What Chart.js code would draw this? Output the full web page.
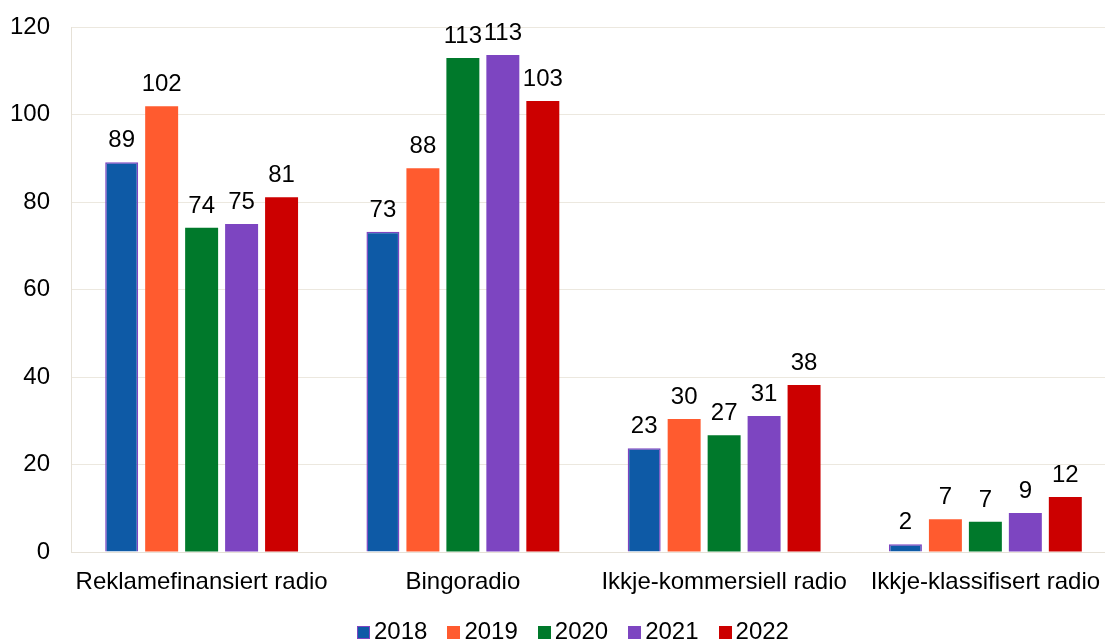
<!DOCTYPE html>
<html>
<head>
<meta charset="utf-8">
<script src="https://cdn.jsdelivr.net/npm/chart.js@4/dist/chart.umd.min.js"></script>
<style>
  html, body { margin: 0; padding: 0; background: #ffffff; overflow: hidden; width: 1105px; height: 642px; }
  #wrap { position: absolute; left: 0; top: 0; width: 1120px; height: 642px; }
  #legend { position: absolute; left: 357px; top: 619px; font-family: "Liberation Sans", Arial, sans-serif; font-size: 24px; line-height: 24px; color: #000; white-space: nowrap; }
  #legend .item { display: inline-block; margin-right: 20px; }
  #legend .box { display: inline-block; width: 13px; height: 13px; margin-right: 4px; box-sizing: border-box; }
</style>
</head>
<body>
<div id="wrap"><canvas id="c" width="1120" height="642"></canvas></div>
<div id="legend"></div>
<script>
const categories = ["Reklamefinansiert radio", "Bingoradio", "Ikkje-kommersiell radio", "Ikkje-klassifisert radio"];
const years = ["2018", "2019", "2020", "2021", "2022"];
const values2018 = [89.1, 73.2, 23.7, 1.8];
const values2019 = [101.9, 87.7, 30.4, 7.5];
const values2020 = [74.1, 112.9, 26.7, 6.9];
const values2021 = [75.0, 113.6, 31.1, 8.9];
const values2022 = [81.1, 103.1, 38.2, 12.6];
const labels2018 = ["89", "73", "23", "2"];
const labels2019 = ["102", "88", "30", "7"];
const labels2020 = ["74", "113", "27", "7"];
const labels2021 = ["75", "113", "31", "9"];
const labels2022 = ["81", "103", "38", "12"];
const yTicks = [0, 20, 40, 60, 80, 100, 120];

const colors = ["#0E5AA6", "#FF5B2F", "#00792B", "#7D45C1", "#CC0000"];
const borders = ["#7D45C1", "#FF5B2F", "#00792B", "#7D45C1", "#CC0000"];
const borderWidths = [1.5, 0, 0, 0, 0];
const seriesValues = [values2018, values2019, values2020, values2021, values2022];
const seriesLabels = [labels2018, labels2019, labels2020, labels2021, labels2022];

const FONT = "Liberation Sans";

const datasets = years.map((y, i) => ({
  label: y,
  data: seriesValues[i],
  valueLabels: seriesLabels[i],
  backgroundColor: colors[i],
  borderColor: borders[i],
  borderWidth: borderWidths[i],
  categoryPercentage: 0.765,
  barPercentage: 0.825
}));

const valueLabelPlugin = {
  id: 'valueLabels',
  afterDatasetsDraw(chart) {
    const ctx = chart.ctx;
    ctx.save();
    ctx.font = "24px '" + FONT + "'";
    ctx.fillStyle = "#000";
    ctx.textAlign = "center";
    ctx.textBaseline = "alphabetic";
    chart.data.datasets.forEach((ds, di) => {
      const meta = chart.getDatasetMeta(di);
      meta.data.forEach((el, idx) => {
        ctx.fillText(ds.valueLabels[idx], el.x, el.y - 15);
      });
    });
    ctx.restore();
  }
};

function zeroPad(scale) {
  scale.paddingLeft = 0; scale.paddingRight = 0;
  scale.paddingTop = 0; scale.paddingBottom = 0;
}

new Chart(document.getElementById('c'), {
  type: 'bar',
  data: { labels: categories, datasets: datasets },
  options: {
    responsive: false,
    animation: false,
    devicePixelRatio: 1,
    layout: { padding: { left: 0, right: 4, top: 27, bottom: 45 } },
    plugins: {
      legend: { display: false },
      tooltip: { enabled: false }
    },
    scales: {
      x: {
        afterFit(scale) { zeroPad(scale); scale.height = 45; },
        grid: { display: false, drawTicks: false },
        border: { display: true, color: "#E6E1D7", width: 1 },
        ticks: { color: "#000", font: { family: FONT, size: 24 }, padding: 16, maxRotation: 0, autoSkip: false }
      },
      y: {
        min: 0, max: 120,
        afterFit(scale) { zeroPad(scale); scale.width = 71; },
        afterBuildTicks(axis) { axis.ticks = yTicks.map(v => ({ value: v })); },
        grid: { color: "#ECE8DF", lineWidth: 1, drawTicks: false },
        border: { display: true, color: "#E6E1D7", width: 1 },
        ticks: { color: "#000", font: { family: FONT, size: 24 }, padding: 21 }
      }
    }
  },
  plugins: [valueLabelPlugin]
});

const legend = document.getElementById('legend');
years.forEach((y, i) => {
  const item = document.createElement('span');
  item.className = 'item';
  const box = document.createElement('span');
  box.className = 'box';
  box.style.background = colors[i];
  if (borderWidths[i] > 0) box.style.border = "1.5px solid " + borders[i];
  item.appendChild(box);
  item.appendChild(document.createTextNode(y));
  legend.appendChild(item);
});
</script>
</body>
</html>
